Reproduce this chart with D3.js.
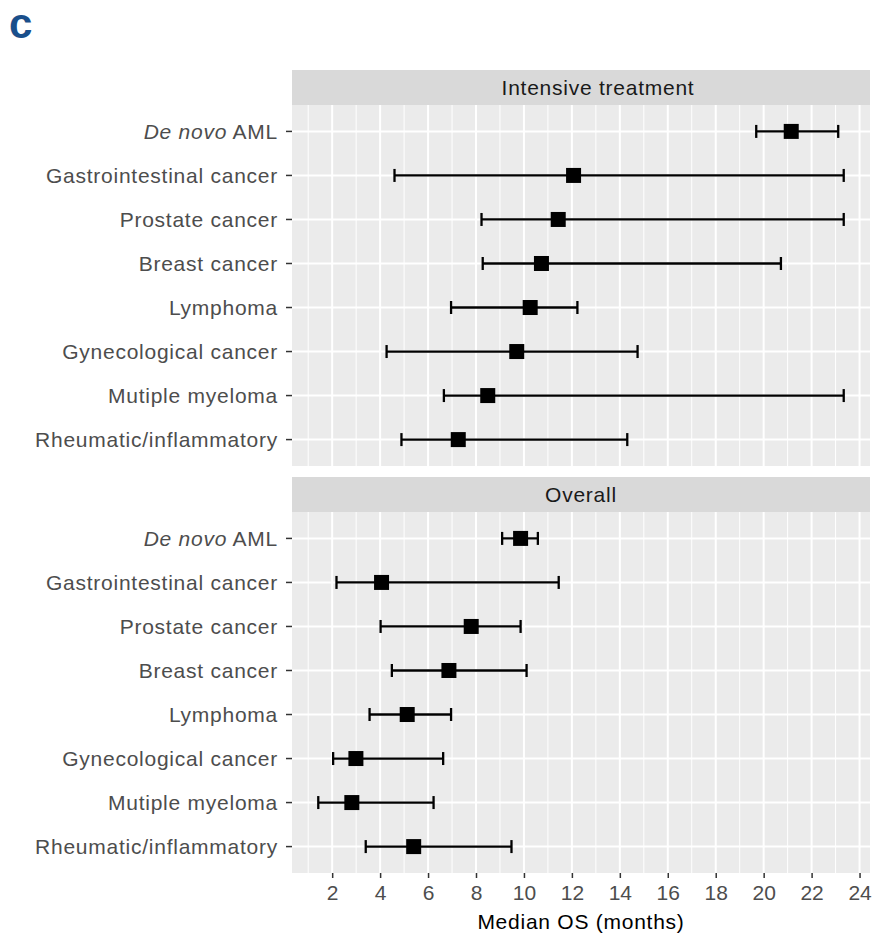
<!DOCTYPE html>
<meta charset="utf-8">
<style>
body { margin: 0; background: #fff; }
text { font-family: "Liberation Sans", Arial, sans-serif; }
.label { fill: #4d4d4d; font-size: 21px; letter-spacing: 0.75px; }
.strip-text { fill: #1a1a1a; font-size: 21px; letter-spacing: 0.75px; }
.axis-title { fill: #000; font-size: 21px; letter-spacing: 0.75px; }
</style>
<body>
<script src="https://d3js.org/d3.v7.min.js"></script>
<script>

// categories, top to bottom
var categories = ["De novo AML", "Gastrointestinal cancer", "Prostate cancer", "Breast cancer",
                  "Lymphoma", "Gynecological cancer", "Mutiple myeloma", "Rheumatic/inflammatory"];

var panels = ["Intensive treatment", "Overall"];

// intensive treatment: median OS and 95% CI
var intensiveMedian = [21.15, 12.07, 11.43, 10.73, 10.26, 9.70, 8.49, 7.26];
var intensiveLower  = [19.69, 4.60, 8.23, 8.28, 6.96, 4.27, 6.66, 4.89];
var intensiveUpper  = [23.11, 23.34, 23.34, 20.72, 12.23, 14.74, 23.34, 14.31];

// overall
var overallMedian = [9.86, 4.06, 7.80, 6.87, 5.13, 2.99, 2.82, 5.40];
var overallLower  = [9.09, 2.18, 4.02, 4.49, 3.56, 2.04, 1.42, 3.40];
var overallUpper  = [10.58, 11.45, 9.86, 10.11, 6.96, 6.63, 6.23, 9.48];

var xTicks = [2, 4, 6, 8, 10, 12, 14, 16, 18, 20, 22, 24];

// build rows for each panel
function rows(med, lo, hi) {
  return categories.map(function(c, i) {
    return {cat: c, med: med[i], lo: lo[i], hi: hi[i]};
  });
}
var panelData = [rows(intensiveMedian, intensiveLower, intensiveUpper),
                 rows(overallMedian, overallLower, overallUpper)];

var width = 872, height = 933;
var left = 292, right = 870;
var stripH = 35, panelH = 361;
var panelTops = [70, 477];

var svg = d3.select("body").append("svg")
    .attr("width", width)
    .attr("height", height);

// x scale with ggplot-like 5% expansion
var allVals = intensiveLower.concat(intensiveUpper, overallLower, overallUpper);
var lo = d3.min(allVals), hi = d3.max(allVals), pad = (hi - lo) * 0.05;
var x = d3.scaleLinear().domain([lo - pad, hi + pad]).range([left, right]);

var minorTicks = d3.range(1, 25, 2);

// panel label
svg.append("text")
    .attr("x", 9)
    .attr("y", 38)
    .style("font-size", "42px")
    .style("font-weight", "bold")
    .style("fill", "#1a4f8b")
    .text("c");

panels.forEach(function(name, p) {
  var top = panelTops[p];
  var bodyTop = top + stripH;
  var y = d3.scalePoint().domain(categories).range([bodyTop, bodyTop + panelH]).padding(0.6);
  var g = svg.append("g");

  // strip
  g.append("rect")
      .attr("x", left).attr("y", top)
      .attr("width", right - left).attr("height", stripH)
      .attr("fill", "#d9d9d9");
  g.append("text")
      .attr("class", "strip-text")
      .attr("x", (left + right) / 2)
      .attr("y", top + stripH / 2)
      .attr("dx", p === 0 ? 17 : 0)
      .attr("dy", "0.36em")
      .attr("text-anchor", "middle")
      .text(name);

  // panel background
  g.append("rect")
      .attr("x", left).attr("y", bodyTop)
      .attr("width", right - left).attr("height", panelH)
      .attr("fill", "#ebebeb");

  // minor grid
  g.selectAll(".minor").data(minorTicks).enter().append("line")
      .attr("x1", x).attr("x2", x)
      .attr("y1", bodyTop).attr("y2", bodyTop + panelH)
      .attr("stroke", "#fff").attr("stroke-width", 1);

  // major grid
  g.selectAll(".vmajor").data(xTicks).enter().append("line")
      .attr("x1", x).attr("x2", x)
      .attr("y1", bodyTop).attr("y2", bodyTop + panelH)
      .attr("stroke", "#fff").attr("stroke-width", 2);
  g.selectAll(".hmajor").data(categories).enter().append("line")
      .attr("x1", left).attr("x2", right)
      .attr("y1", y).attr("y2", y)
      .attr("stroke", "#fff").attr("stroke-width", 2);

  // y axis ticks and labels
  g.selectAll(".ytick").data(categories).enter().append("line")
      .attr("x1", left - 6).attr("x2", left)
      .attr("y1", y).attr("y2", y)
      .attr("stroke", "#333").attr("stroke-width", 1.5);
  var lab = g.selectAll(".label").data(categories).enter().append("text")
      .attr("class", "label")
      .attr("x", left - 14)
      .attr("y", y)
      .attr("dy", "0.36em")
      .attr("text-anchor", "end");
  lab.each(function(d) {
    var t = d3.select(this);
    if (d.indexOf("De novo") === 0) {
      t.append("tspan").style("font-style", "italic").text("De novo");
      t.append("tspan").text(d.slice(7));
    } else {
      t.text(d);
    }
  });

  // error bars
  var data = panelData[p];
  var capH = 13, lw = 2.3;
  var eb = g.selectAll(".eb").data(data).enter().append("g");
  eb.append("line")
      .attr("x1", function(d) { return x(d.lo); })
      .attr("x2", function(d) { return x(d.hi); })
      .attr("y1", function(d) { return y(d.cat); })
      .attr("y2", function(d) { return y(d.cat); })
      .attr("stroke", "#000").attr("stroke-width", lw);
  eb.append("line")
      .attr("x1", function(d) { return x(d.lo); })
      .attr("x2", function(d) { return x(d.lo); })
      .attr("y1", function(d) { return y(d.cat) - capH / 2; })
      .attr("y2", function(d) { return y(d.cat) + capH / 2; })
      .attr("stroke", "#000").attr("stroke-width", lw);
  eb.append("line")
      .attr("x1", function(d) { return x(d.hi); })
      .attr("x2", function(d) { return x(d.hi); })
      .attr("y1", function(d) { return y(d.cat) - capH / 2; })
      .attr("y2", function(d) { return y(d.cat) + capH / 2; })
      .attr("stroke", "#000").attr("stroke-width", lw);

  // median squares
  var sq = 15;
  eb.append("rect")
      .attr("x", function(d) { return x(d.med) - sq / 2; })
      .attr("y", function(d) { return y(d.cat) - sq / 2; })
      .attr("width", sq).attr("height", sq)
      .attr("fill", "#000");
});

// x axis (bottom panel only)
var axisY = panelTops[1] + stripH + panelH;
var xAxis = svg.append("g")
    .attr("transform", "translate(0," + axisY + ")")
    .call(d3.axisBottom(x).tickValues(xTicks).tickSize(5).tickPadding(7).tickSizeOuter(0));
xAxis.select(".domain").remove();
xAxis.selectAll(".tick line").attr("stroke", "#333").attr("stroke-width", 1.5);
xAxis.selectAll(".tick text")
    .attr("fill", "#4d4d4d")
    .style("font-size", "21px")
    .style("font-family", "'Liberation Sans', Arial, sans-serif");

// x axis title
svg.append("text")
    .attr("class", "axis-title")
    .attr("x", (left + right) / 2)
    .attr("y", 929)
    .attr("text-anchor", "middle")
    .text("Median OS (months)");

</script>
</body>
